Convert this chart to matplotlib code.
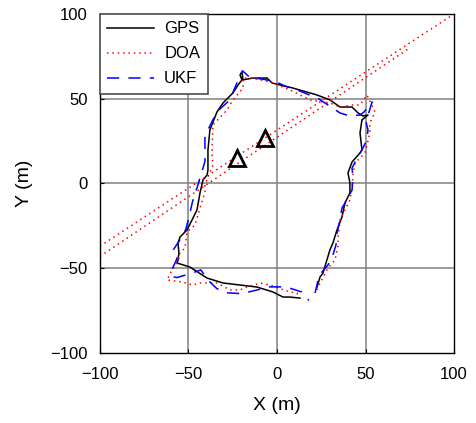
import numpy as np
import matplotlib.pyplot as plt

plt.rcParams['font.family'] = ['Liberation Sans', 'DejaVu Sans']

# GPS track (m)
gps_x = [22.6, 24.3, 26.0, 28.2, 29.9, 31.6, 33.9, 36.7, 38.4, 41.2, 41.2, 40.1, 42.4,
         46.9, 48.0, 46.9, 48.0, 51.4, 48.6, 45.8, 42.4, 35.6, 29.9, 22.6, 9.0, 1.7,
         -2.8, -5.6, -13.6, -19.2, -19.8, -20.9, -19.8, -22.0, -24.9, -30.5, -33.9,
         -37.9, -39.0, -39.0, -39.5, -41.8, -43.5, -45.2, -48.0, -50.8, -54.8, -55.9,
         -55.4, -55.9, -56.5, -49.2, -39.5, -30.5, -20.9, -11.3, -2.3, 3.4, 7.3, 13.0]
gps_y = [-61.1, -55.2, -52.8, -45.1, -39.2, -35.1, -27.4, -19.8, -11.5, -5.6, 0.3, 6.2,
         12.7, 18.0, 19.8, 29.8, 37.5, 40.4, 39.8, 41.6, 45.1, 45.1, 49.3, 52.2, 56.3,
         58.1, 59.3, 62.2, 62.2, 61.1, 65.8, 64.0, 61.1, 58.1, 53.4, 47.5, 42.2, 31.6,
         19.8, 8.0, 5.0, 2.1, -5.6, -15.6, -21.5, -27.4, -31.6, -35.1, -41.0, -45.1,
         -46.9, -49.3, -55.8, -58.7, -59.9, -61.1, -64.0, -67.0, -67.0, -67.6]

# DOA estimates: two far-off bearing lines, then the loop
doa_line_x = [-100, 100, np.nan, -100, 75]
doa_line_y = [-37, 100, np.nan, -43, 80]
doa_x = [22.6, 23.2, 28.8, 32.8, 34.5, 34.5, 35.6, 41.2, 42.4, 42.9, 44.1, 49.7, 52.5,
         52.5, 55.4, 50.8, 46.9, 42.9, 35.6, 29.9, 18.6, 7.3, -4.0, -15.3, -19.2, -19.2,
         -24.9, -28.2, -36.2, -36.7, -36.2, -40.7, -40.7, -43.5, -46.3, -50.8, -52.0,
         -54.8, -55.9, -59.3, -62.1, -53.7, -47.5, -43.5, -33.9, -26.6, -20.9, -17.0,
         -9.6, -4.0, 7.3, 11.3, 11.9]
doa_y = [-62.8, -61.1, -49.9, -45.1, -36.3, -31.6, -21.5, -9.7, -2.1, 5.0, 12.1, 18.0,
         29.8, 35.7, 42.2, 52.2, 46.3, 46.3, 45.1, 47.5, 49.3, 55.2, 60.0, 62.2, 62.2,
         56.3, 49.3, 43.4, 34.5, 18.0, 10.9, -0.9, -5.0, -14.5, -24.5, -28.6, -38.1,
         -41.0, -46.3, -51.0, -56.9, -58.1, -59.9, -58.7, -58.7, -62.8, -62.8, -61.1,
         -58.7, -59.9, -64.0, -64.6, -67.0]

# UKF estimate
ukf_x = [21.5, 23.2, 25.4, 28.8, 31.6, 33.3, 33.9, 35.6, 36.7, 39.5, 42.4, 42.9, 42.4,
         45.2, 48.0, 50.8, 51.4, 50.3, 53.7, 49.0, 46.9, 41.2, 35.6, 29.9, 23.5, 13.0,
         4.5, -1.1, -8.0, -15.3, -19.5, -21.5, -24.0, -26.6, -32.2, -36.0, -40.7, -40.7,
         -40.7, -43.0, -45.0, -47.8, -49.5, -51.5, -55.0, -58.5, -56.0, -57.0, -59.0,
         -59.0, -56.5, -50.0, -43.0, -39.0, -34.0, -28.0, -20.0, -12.0, -4.0, 2.0, 8.0,
         14.0, 18.0]
ukf_y = [-64.6, -56.9, -52.2, -48.1, -42.2, -36.3, -29.2, -21.5, -14.5, -9.7, -3.8, 3.2,
         9.1, 15.0, 19.8, 25.7, 31.6, 36.3, 48.1, 42.0, 40.4, 39.8, 41.6, 45.5, 50.0,
         54.5, 57.5, 60.2, 61.5, 62.5, 66.5, 62.0, 56.0, 49.3, 44.0, 38.0, 28.0, 19.0,
         13.0, 5.0, -2.0, -11.0, -19.0, -27.0, -33.5, -39.0, -42.5, -45.5, -50.0, -55.0,
         -55.5, -53.5, -51.0, -57.0, -62.0, -64.5, -65.0, -63.0, -61.0, -61.0, -62.0,
         -64.0, -69.0]

# sensor positions
sensor_x = [-22.6, -6.8]
sensor_y = [15.0, 26.8]

ticks = [-100, -50, 0, 50, 100]

fig = plt.figure(figsize=(4.77, 4.23), dpi=100)
ax = fig.add_axes([0.2096, 0.1655, 0.7422, 0.8015])

for t in [-50, 0, 50]:
    ax.axvline(t, color='0.5', lw=1.1, zorder=0)
    ax.axhline(t, color='0.5', lw=1.1, zorder=0)

dots = (0, (1, 2.5))
ax.plot(gps_x, gps_y, color='black', lw=1.1, label='GPS')
ax.plot(doa_x, doa_y, color='red', lw=1.1, ls=dots, label='DOA')
ax.plot(doa_line_x, doa_line_y, color='red', lw=1.1, ls=dots)
ax.plot(ukf_x, ukf_y, color='blue', lw=1.1, ls=(0, (8, 6)), label='UKF')
ax.plot(sensor_x, sensor_y, ls='none', marker='^', ms=12, mfc='none',
        mec='black', mew=2)

ax.set_xlim(-100, 100)
ax.set_ylim(-100, 100)
ax.set_xticks(ticks)
ax.set_yticks(ticks)
ax.tick_params(direction='in', labelsize=12, length=3, colors='black')
ax.tick_params(axis='x', pad=10)
ax.tick_params(axis='y', pad=9)
ax.set_xlabel('X (m)', fontsize=14, labelpad=11)
ax.set_ylabel('Y (m)', fontsize=14, labelpad=12)
for s in ax.spines.values():
    s.set_color('black')
    s.set_linewidth(1.0)

leg = ax.legend(loc='upper left', bbox_to_anchor=(0, 1), borderaxespad=0,
                fontsize=12, handlelength=2.8, labelspacing=0.6, borderpad=0.45,
                handletextpad=0.6, fancybox=False, framealpha=1, edgecolor='0.3')
leg.get_frame().set_linewidth(1.2)

fig.savefig('out.png', dpi=100)
